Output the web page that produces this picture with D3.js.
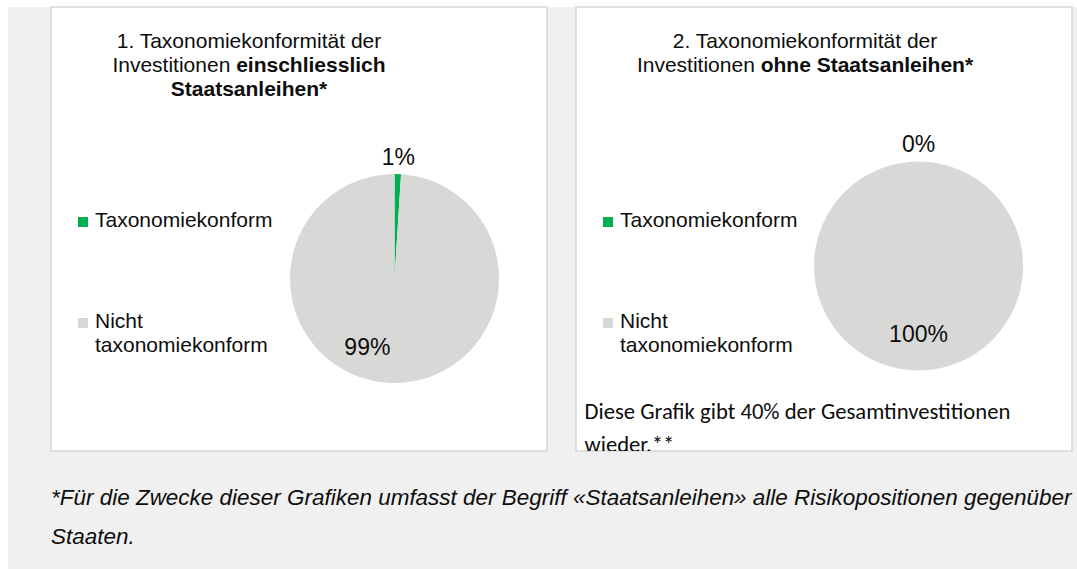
<!DOCTYPE html>
<html>
<head>
<meta charset="utf-8">
<script src="https://cdn.jsdelivr.net/npm/d3@7/dist/d3.min.js"></script>
<style>
  html, body { margin: 0; padding: 0; background: #ffffff; }
  svg { display: block; }
</style>
</head>
<body>
<script>
// ---- data ----
const categories = ["Taxonomiekonform", "Nicht taxonomiekonform"];
const legendLines = [["Taxonomiekonform"], ["Nicht", "taxonomiekonform"]];
const chart1Values = [1, 99];      // percent, incl. sovereign bonds
const chart2Values = [0, 100];     // percent, excl. sovereign bonds
const sliceColors = ["#00b050", "#d8d9d7"];

// title lines as [text, bold] segments
const chart1Title = [
  [["1. Taxonomiekonformität der", false]],
  [["Investitionen ", false], ["einschliesslich", true]],
  [["Staatsanleihen*", true]]
];
const chart2Title = [
  [["2. Taxonomiekonformität der", false]],
  [["Investitionen ", false], ["ohne Staatsanleihen*", true]]
];
const chart2Note = ["Diese Grafik gibt 40% der Gesamtinvestitionen", "wieder.**"];
const footnoteLines = [
  "*Für die Zwecke dieser Grafiken umfasst der Begriff «Staatsanleihen» alle Risikopositionen gegenüber",
  "Staaten."
];

// ---- layout ----
const W = 1077, H = 569;
const textColor = "#0d0d0d";
const sansFont = "'Liberation Sans', Arial, Helvetica, sans-serif";
const noteFont = "Carlito, Calibri, Lato, 'Open Sans', sans-serif";

const charts = [
  { values: chart1Values, title: chart1Title,
    panel: { x: 51, y: 7, w: 496, h: 444 },
    cx: 394.5, cy: 278.5, r: 104.5, titleX: 249,
    legendX: 78, insideNudge: -25 },
  { values: chart2Values, title: chart2Title, note: chart2Note,
    panel: { x: 576, y: 7, w: 496, h: 444 },
    cx: 918.5, cy: 266, r: 104.5, titleX: 805,
    legendX: 603, insideNudge: 0 }
];

const svg = d3.select("body").append("svg")
  .attr("width", W).attr("height", H);

// page background
svg.append("rect").attr("width", W).attr("height", H).attr("fill", "#ffffff");
svg.append("rect").attr("x", 8).attr("y", 7)
  .attr("width", W - 8).attr("height", H - 7).attr("fill", "#f0f0f0");

const color = d3.scaleOrdinal().domain(categories).range(sliceColors);
const pie = d3.pie().sort(null).value(d => d.value);

// shrink/grow a text's font-size so its width equals target
function fitWidth(sel, target) {
  const node = sel.node();
  const fs = parseFloat(sel.attr("font-size"));
  const w = node.getComputedTextLength();
  const nfs = fs * target / w;
  sel.attr("font-size", nfs);
  return nfs;
}

charts.forEach((c, ci) => {
  const p = c.panel;
  const g = svg.append("g");

  const clipId = "clip" + ci;
  g.append("clipPath").attr("id", clipId)
    .append("rect").attr("x", p.x).attr("y", p.y).attr("width", p.w).attr("height", p.h);

  g.append("rect")
    .attr("x", p.x).attr("y", p.y).attr("width", p.w).attr("height", p.h)
    .attr("fill", "#ffffff").attr("stroke", "#d9d9d9").attr("stroke-width", 1.6);

  const inner = g.append("g").attr("clip-path", `url(#${clipId})`);

  // title
  c.title.forEach((line, li) => {
    const t = inner.append("text")
      .attr("x", c.titleX).attr("y", 48 + li * 24)
      .attr("text-anchor", "middle")
      .attr("font-family", sansFont).attr("font-size", 21)
      .attr("fill", textColor);
    line.forEach(([txt, bold]) => {
      t.append("tspan").text(txt).attr("font-weight", bold ? "bold" : "normal");
    });
  });

  // pie
  const data = categories.map((k, i) => ({ key: k, value: c.values[i] }));
  const arcs = pie(data);
  const arc = d3.arc().innerRadius(0).outerRadius(c.r);
  const pg = inner.append("g").attr("transform", `translate(${c.cx},${c.cy})`);
  pg.selectAll("path.slice").data(arcs).join("path")
    .attr("class", "slice")
    .attr("d", arc)
    .attr("fill", d => color(d.data.key));

  // data labels: small slice outside, large slice inside
  const outerLabelArc = d3.arc().innerRadius(c.r * 1.17).outerRadius(c.r * 1.17);
  const innerLabelArc = d3.arc().innerRadius(c.r * 0.65).outerRadius(c.r * 0.65);
  pg.selectAll("text.lbl").data(arcs).join("text")
    .attr("class", "lbl")
    .attr("transform", (d, i) => {
      const [x, y] = i === 0 ? outerLabelArc.centroid(d) : innerLabelArc.centroid(d);
      return `translate(${i === 0 ? x : x + c.insideNudge},${y})`;
    })
    .attr("text-anchor", "middle")
    .attr("dy", "0.36em")
    .attr("font-family", sansFont).attr("font-size", 23)
    .attr("fill", textColor)
    .text(d => d3.format(".0f")(d.data.value) + "%");

  // legend
  const legendRows = [227, 328];
  categories.forEach((k, i) => {
    const y0 = legendRows[i];
    inner.append("rect")
      .attr("x", c.legendX).attr("y", y0 - 10)
      .attr("width", 10).attr("height", 10)
      .attr("fill", color(k));
    legendLines[i].forEach((ln, j) => {
      inner.append("text")
        .attr("x", c.legendX + 17).attr("y", y0 + j * 24)
        .attr("font-family", sansFont).attr("font-size", 21)
        .attr("fill", textColor)
        .text(ln);
    });
  });

  // note under the second pie (second line runs into the panel edge)
  if (c.note) {
    const first = inner.append("text")
      .attr("x", p.x + 8.5).attr("y", 419)
      .attr("font-family", noteFont).attr("font-size", 21)
      .attr("fill", textColor)
      .text(c.note[0]);
    const fs = fitWidth(first, 426);
    inner.append("text")
      .attr("x", p.x + 8.5).attr("y", 452)
      .attr("font-family", noteFont).attr("font-size", fs)
      .attr("fill", textColor)
      .text(c.note[1]);
  }
});

// footnote
const f1 = svg.append("text")
  .attr("x", 51).attr("y", 505)
  .attr("font-family", sansFont).attr("font-style", "italic")
  .attr("font-size", 20.5).attr("fill", textColor)
  .text(footnoteLines[0]);
const ffs = fitWidth(f1, 1021);
svg.append("text")
  .attr("x", 51).attr("y", 544)
  .attr("font-family", sansFont).attr("font-style", "italic")
  .attr("font-size", ffs).attr("fill", textColor)
  .text(footnoteLines[1]);
</script>
</body>
</html>
